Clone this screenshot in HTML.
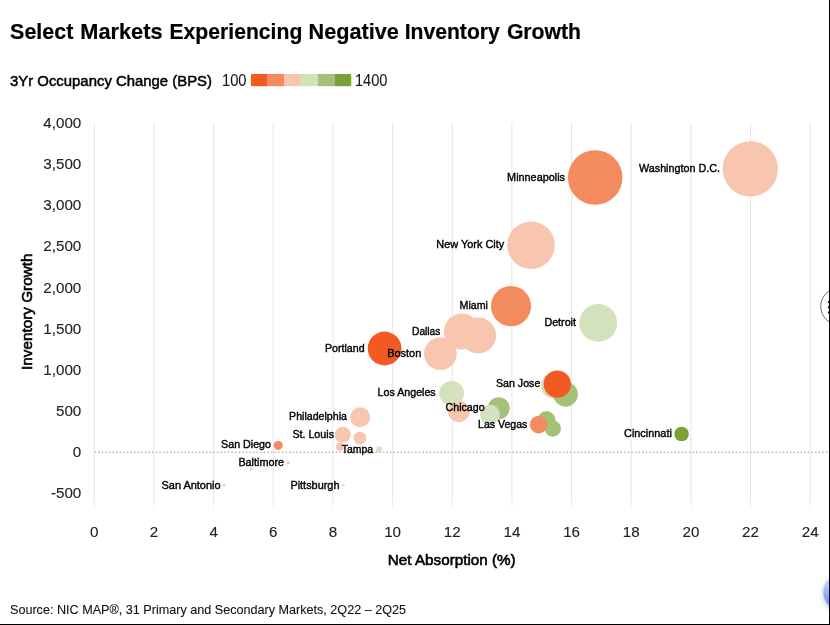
<!DOCTYPE html>
<html><head><meta charset="utf-8"><style>
html,body{margin:0;padding:0;background:#fff;}
body{width:830px;height:625px;overflow:hidden;position:relative;font-family:"Liberation Sans",sans-serif;}
svg{position:absolute;left:0;top:0;will-change:transform;}
.tick{font-size:15.2px;fill:#222;stroke:#222;stroke-width:0.12px;}
.lab{font-size:11px;fill:#000;stroke:#000;stroke-width:0.4px;}
.title{font-size:21.6px;font-weight:bold;fill:#000;stroke:#000;stroke-width:0.2px;}
.leg{font-size:15.4px;fill:#000;stroke:#000;stroke-width:0.5px;}
.legn{font-size:15.8px;fill:#1a1a1a;stroke:#1a1a1a;stroke-width:0.1px;}
.axt{font-size:15.2px;fill:#000;stroke:#000;stroke-width:0.6px;}
.src{font-size:13px;fill:#111;stroke:#111;stroke-width:0.1px;}
</style></head><body>
<svg width="830" height="625" viewBox="0 0 830 625">
<defs>
<linearGradient id="bg" x1="0" y1="0" x2="0" y2="1"><stop offset="0" stop-color="#d9e6ff"/><stop offset="1" stop-color="#4f86f2"/></linearGradient>
<filter id="sh" x="-50%" y="-50%" width="200%" height="200%"><feGaussianBlur stdDeviation="2.5"/></filter>
<clipPath id="lc"><rect x="250.7" y="73.8" width="100.8" height="12.6" rx="2.5"/></clipPath>
</defs>
<g clip-path="url(#lc)">
<rect x="250.7" y="73.8" width="16.9" height="12.6" fill="#F15A22"/>
<rect x="267.5" y="73.8" width="16.9" height="12.6" fill="#F48B5E"/>
<rect x="284.3" y="73.8" width="16.9" height="12.6" fill="#F8C5AF"/>
<rect x="301.1" y="73.8" width="16.9" height="12.6" fill="#D3E1BD"/>
<rect x="317.9" y="73.8" width="16.9" height="12.6" fill="#A5C178"/>
<rect x="334.7" y="73.8" width="16.9" height="12.6" fill="#7BA136"/>
</g>
<line x1="94.30" y1="123" x2="94.30" y2="502" stroke="#e6e6e6" stroke-width="1"/>
<line x1="94.30" y1="502" x2="94.30" y2="508" stroke="#f0f0f0" stroke-width="1"/>
<line x1="153.96" y1="123" x2="153.96" y2="502" stroke="#e6e6e6" stroke-width="1"/>
<line x1="153.96" y1="502" x2="153.96" y2="508" stroke="#f0f0f0" stroke-width="1"/>
<line x1="213.62" y1="123" x2="213.62" y2="502" stroke="#e6e6e6" stroke-width="1"/>
<line x1="213.62" y1="502" x2="213.62" y2="508" stroke="#f0f0f0" stroke-width="1"/>
<line x1="273.28" y1="123" x2="273.28" y2="502" stroke="#e6e6e6" stroke-width="1"/>
<line x1="273.28" y1="502" x2="273.28" y2="508" stroke="#f0f0f0" stroke-width="1"/>
<line x1="332.94" y1="123" x2="332.94" y2="502" stroke="#e6e6e6" stroke-width="1"/>
<line x1="332.94" y1="502" x2="332.94" y2="508" stroke="#f0f0f0" stroke-width="1"/>
<line x1="392.60" y1="123" x2="392.60" y2="502" stroke="#e6e6e6" stroke-width="1"/>
<line x1="392.60" y1="502" x2="392.60" y2="508" stroke="#f0f0f0" stroke-width="1"/>
<line x1="452.26" y1="123" x2="452.26" y2="502" stroke="#e6e6e6" stroke-width="1"/>
<line x1="452.26" y1="502" x2="452.26" y2="508" stroke="#f0f0f0" stroke-width="1"/>
<line x1="511.92" y1="123" x2="511.92" y2="502" stroke="#e6e6e6" stroke-width="1"/>
<line x1="511.92" y1="502" x2="511.92" y2="508" stroke="#f0f0f0" stroke-width="1"/>
<line x1="571.58" y1="123" x2="571.58" y2="502" stroke="#e6e6e6" stroke-width="1"/>
<line x1="571.58" y1="502" x2="571.58" y2="508" stroke="#f0f0f0" stroke-width="1"/>
<line x1="631.24" y1="123" x2="631.24" y2="502" stroke="#e6e6e6" stroke-width="1"/>
<line x1="631.24" y1="502" x2="631.24" y2="508" stroke="#f0f0f0" stroke-width="1"/>
<line x1="690.90" y1="123" x2="690.90" y2="502" stroke="#e6e6e6" stroke-width="1"/>
<line x1="690.90" y1="502" x2="690.90" y2="508" stroke="#f0f0f0" stroke-width="1"/>
<line x1="750.56" y1="123" x2="750.56" y2="502" stroke="#e6e6e6" stroke-width="1"/>
<line x1="750.56" y1="502" x2="750.56" y2="508" stroke="#f0f0f0" stroke-width="1"/>
<line x1="810.22" y1="123" x2="810.22" y2="502" stroke="#e6e6e6" stroke-width="1"/>
<line x1="810.22" y1="502" x2="810.22" y2="508" stroke="#f0f0f0" stroke-width="1"/>
<line x1="94.44" y1="452.3" x2="829" y2="452.3" stroke="#b6bac3" stroke-width="1.6" stroke-dasharray="1.6 2.0027"/>
<text x="81.3" y="128.10" text-anchor="end" class="tick">4,000</text>
<text x="81.3" y="169.22" text-anchor="end" class="tick">3,500</text>
<text x="81.3" y="210.35" text-anchor="end" class="tick">3,000</text>
<text x="81.3" y="251.47" text-anchor="end" class="tick">2,500</text>
<text x="81.3" y="292.60" text-anchor="end" class="tick">2,000</text>
<text x="81.3" y="333.73" text-anchor="end" class="tick">1,500</text>
<text x="81.3" y="374.85" text-anchor="end" class="tick">1,000</text>
<text x="81.3" y="415.98" text-anchor="end" class="tick">500</text>
<text x="81.3" y="457.10" text-anchor="end" class="tick">0</text>
<text x="81.3" y="498.23" text-anchor="end" class="tick">-500</text>
<text x="94.30" y="536.7" text-anchor="middle" class="tick">0</text>
<text x="153.96" y="536.7" text-anchor="middle" class="tick">2</text>
<text x="213.62" y="536.7" text-anchor="middle" class="tick">4</text>
<text x="273.28" y="536.7" text-anchor="middle" class="tick">6</text>
<text x="332.94" y="536.7" text-anchor="middle" class="tick">8</text>
<text x="392.60" y="536.7" text-anchor="middle" class="tick">10</text>
<text x="452.26" y="536.7" text-anchor="middle" class="tick">12</text>
<text x="511.92" y="536.7" text-anchor="middle" class="tick">14</text>
<text x="571.58" y="536.7" text-anchor="middle" class="tick">16</text>
<text x="631.24" y="536.7" text-anchor="middle" class="tick">18</text>
<text x="690.90" y="536.7" text-anchor="middle" class="tick">20</text>
<text x="750.56" y="536.7" text-anchor="middle" class="tick">22</text>
<text x="810.22" y="536.7" text-anchor="middle" class="tick">24</text>
<circle cx="750.3" cy="168.9" r="27.7" fill="#F8C5AF"/>
<circle cx="595.2" cy="177.5" r="27.3" fill="#F48B5E"/>
<circle cx="531.0" cy="245.2" r="23.8" fill="#F8C5AF"/>
<circle cx="511.0" cy="306.1" r="20.1" fill="#F48B5E"/>
<circle cx="598.2" cy="322.9" r="18.9" fill="#D3E1BD"/>
<circle cx="461.9" cy="331.6" r="18.0" fill="#F8C5AF"/>
<circle cx="478.2" cy="335.4" r="18.0" fill="#F8C5AF"/>
<circle cx="440.3" cy="353.8" r="16.3" fill="#F8C5AF"/>
<circle cx="384.6" cy="348.5" r="16.9" fill="#F15A22"/>
<circle cx="458.8" cy="411.5" r="10.7" fill="#F8C5AF"/>
<circle cx="451.6" cy="393.3" r="12.4" fill="#D3E1BD"/>
<circle cx="498.7" cy="408.3" r="11.0" fill="#A5C178"/>
<circle cx="490.0" cy="414.5" r="10.0" fill="#D3E1BD"/>
<circle cx="553.9" cy="385.5" r="13.0" fill="#D3E1BD"/>
<circle cx="565.5" cy="394.3" r="12.4" fill="#A5C178"/>
<circle cx="557.3" cy="384.1" r="13.7" fill="#F15A22"/>
<circle cx="546.5" cy="420.0" r="9.0" fill="#A5C178"/>
<circle cx="552.8" cy="428.5" r="8.2" fill="#A5C178"/>
<circle cx="538.6" cy="424.6" r="8.8" fill="#F48B5E"/>
<circle cx="681.6" cy="434.0" r="7.3" fill="#7BA136"/>
<circle cx="360.2" cy="417.2" r="9.95" fill="#F8C5AF"/>
<circle cx="342.8" cy="434.8" r="8.0" fill="#F8C5AF"/>
<circle cx="359.8" cy="438.1" r="6.4" fill="#F8C5AF"/>
<circle cx="340.0" cy="446.7" r="4.0" fill="#F8C5AF"/>
<circle cx="379.2" cy="449.4" r="2.9" fill="#D3E1BD"/>
<circle cx="278.2" cy="445.4" r="4.5" fill="#F48B5E"/>
<circle cx="288.3" cy="462.8" r="1.5" fill="#F8C5AF"/>
<circle cx="251.2" cy="469.0" r="1.5" fill="#F8C5AF"/>
<circle cx="224.2" cy="485.2" r="1.3" fill="#F8C5AF"/>
<circle cx="343.5" cy="485.2" r="1.3" fill="#D3E1BD"/>
<text id="l1" x="639.00" y="171.5" class="lab" textLength="81.00" lengthAdjust="spacingAndGlyphs">Washington D.C.</text>
<text id="l2" x="507.10" y="181.2" class="lab" textLength="57.90" lengthAdjust="spacingAndGlyphs">Minneapolis</text>
<text id="l3" x="436.30" y="248.4" class="lab" textLength="67.90" lengthAdjust="spacingAndGlyphs">New York City</text>
<text id="l4" x="459.60" y="309.1" class="lab" textLength="28.40" lengthAdjust="spacingAndGlyphs">Miami</text>
<text id="l5" x="544.40" y="326.2" class="lab" textLength="31.60" lengthAdjust="spacingAndGlyphs">Detroit</text>
<text id="l6" x="412.00" y="334.7" class="lab" textLength="28.40" lengthAdjust="spacingAndGlyphs">Dallas</text>
<text id="l7" x="325.00" y="351.5" class="lab" textLength="39.60" lengthAdjust="spacingAndGlyphs">Portland</text>
<text id="l8" x="387.30" y="356.8" class="lab" textLength="33.90" lengthAdjust="spacingAndGlyphs">Boston</text>
<text id="l9" x="377.60" y="396.2" class="lab" textLength="58.10" lengthAdjust="spacingAndGlyphs">Los Angeles</text>
<text id="l10" x="496.00" y="386.9" class="lab" textLength="44.30" lengthAdjust="spacingAndGlyphs">San Jose</text>
<text id="l11" x="445.60" y="410.8" class="lab" textLength="39.00" lengthAdjust="spacingAndGlyphs">Chicago</text>
<text id="l12" x="478.00" y="428.1" class="lab" textLength="49.40" lengthAdjust="spacingAndGlyphs">Las Vegas</text>
<text id="l13" x="624.00" y="436.8" class="lab" textLength="47.90" lengthAdjust="spacingAndGlyphs">Cincinnati</text>
<text id="l14" x="289.10" y="419.9" class="lab" textLength="57.80" lengthAdjust="spacingAndGlyphs">Philadelphia</text>
<text id="l15" x="292.40" y="438.2" class="lab" textLength="41.60" lengthAdjust="spacingAndGlyphs">St. Louis</text>
<text id="l16" x="341.80" y="452.5" class="lab" textLength="31.30" lengthAdjust="spacingAndGlyphs">Tampa</text>
<text id="l17" x="221.10" y="447.8" class="lab" textLength="49.90" lengthAdjust="spacingAndGlyphs">San Diego</text>
<text id="l18" x="238.40" y="465.5" class="lab" textLength="45.60" lengthAdjust="spacingAndGlyphs">Baltimore</text>
<text id="l19" x="161.50" y="488.8" class="lab" textLength="59.00" lengthAdjust="spacingAndGlyphs">San Antonio</text>
<text id="l20" x="290.40" y="488.8" class="lab" textLength="49.10" lengthAdjust="spacingAndGlyphs">Pittsburgh</text>
<text id="t1" x="10.10" y="38.8" class="title" textLength="63.20" lengthAdjust="spacingAndGlyphs">Select</text>
<text id="t2" x="80.30" y="38.8" class="title" textLength="82.20" lengthAdjust="spacingAndGlyphs">Markets</text>
<text id="t3" x="169.50" y="38.8" class="title" textLength="132.80" lengthAdjust="spacingAndGlyphs">Experiencing</text>
<text id="t4" x="308.60" y="38.8" class="title" textLength="90.30" lengthAdjust="spacingAndGlyphs">Negative</text>
<text id="t5" x="404.70" y="38.8" class="title" textLength="95.10" lengthAdjust="spacingAndGlyphs">Inventory</text>
<text id="t6" x="506.90" y="38.8" class="title" textLength="74.10" lengthAdjust="spacingAndGlyphs">Growth</text>
<text id="lg" x="10.00" y="86.0" class="leg" textLength="202.00" lengthAdjust="spacingAndGlyphs">3Yr Occupancy Change (BPS)</text>
<text id="n1" x="222.00" y="86.0" class="legn" textLength="24.50" lengthAdjust="spacingAndGlyphs">100</text>
<text id="n2" x="355.00" y="86.0" class="legn" textLength="32.50" lengthAdjust="spacingAndGlyphs">1400</text>
<text id="ax" x="387.80" y="564.9" class="axt" textLength="127.90" lengthAdjust="spacingAndGlyphs">Net Absorption (%)</text>
<text id="src" x="10.00" y="613.8" class="src" textLength="396.00" lengthAdjust="spacingAndGlyphs">Source: NIC MAP®, 31 Primary and Secondary Markets, 2Q22 – 2Q25</text>
<text id="ay" transform="translate(31.5,369.7) rotate(-90)" x="-0.20" y="0" class="axt" textLength="116.40" lengthAdjust="spacingAndGlyphs">Inventory Growth</text>
<circle cx="839" cy="306.4" r="18.3" fill="#fff" stroke="#6a6a6a" stroke-width="1"/>
<circle cx="829" cy="302" r="1.2" fill="#222"/><circle cx="829" cy="307.2" r="1.2" fill="#222"/><circle cx="829" cy="312.4" r="1.2" fill="#222"/>
<circle cx="842" cy="594" r="18.5" fill="#000" opacity="0.3" filter="url(#sh)"/>
<circle cx="841.9" cy="592" r="18.5" fill="url(#bg)"/>
<rect x="829" y="0" width="1" height="625" fill="#000"/>
<rect x="0" y="624" width="830" height="1" fill="#000"/>
</svg>
</body></html>
